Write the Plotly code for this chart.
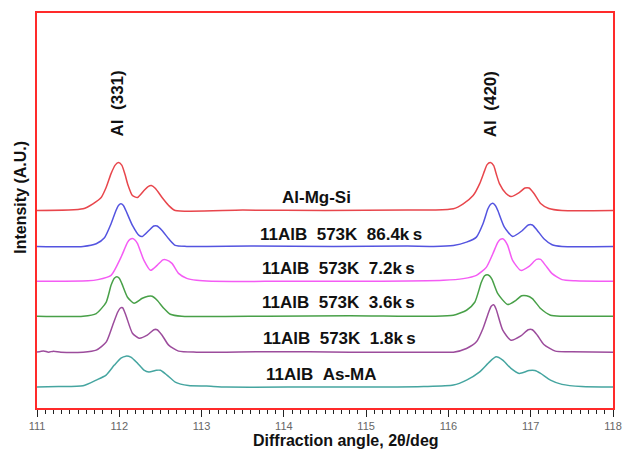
import plotly.graph_objects as go

# ---- data ----
red_x = [111.0, 111.56, 111.68, 111.78, 111.84, 111.90, 111.95, 111.99, 112.03, 112.07, 112.10, 112.16, 112.22, 112.30, 112.35, 112.39, 112.44, 112.52, 112.60, 112.68,
         113.5, 114.5, 115.5, 115.82, 116.06, 116.18, 116.30, 116.38, 116.44, 116.47, 116.51, 116.55, 116.58, 116.62, 116.70, 116.76, 116.86, 116.93, 116.98, 117.04, 117.12, 117.22, 117.38, 118.0]
red_y = [0, 1.7, 6.7, 13, 23, 37, 45.5, 48, 45.5, 36, 27, 15, 13, 20, 24, 25, 22, 13, 5, 0,
         0.4, 0, 0.5, 0.5, 1.7, 6.7, 15, 27, 40, 46, 48, 45, 37, 27, 17, 14, 18, 22.5, 22.5, 17, 7, 2, 0, 0]

blue_x = [111.0, 111.56, 111.72, 111.82, 111.90, 111.96, 111.99, 112.02, 112.05, 112.08, 112.16, 112.24, 112.28, 112.36, 112.42, 112.46, 112.52, 112.60, 112.68, 112.82,
          113.6, 114.6, 115.5, 115.82, 116.06, 116.22, 116.34, 116.42, 116.48, 116.51, 116.54, 116.57, 116.60, 116.68, 116.78, 116.90, 116.97, 117.02, 117.08, 117.16, 117.26, 117.38, 118.0]
blue_y = [0, 0, 2.7, 8.7, 22.7, 36, 41, 42.7, 41, 36, 21, 11, 10, 16, 20.5, 20.5, 16, 7.7, 1, 0,
          0.4, 0, 0.3, 0, 1, 4.3, 9.3, 22.7, 37.7, 42, 43.3, 41, 36, 19.3, 10, 16, 21.5, 21.5, 16, 7.7, 1.7, 0, 0]

magenta_x = [111.0, 111.62, 111.74, 111.90, 112.02, 112.10, 112.13, 112.16, 112.19, 112.22, 112.30, 112.38, 112.46, 112.53, 112.57, 112.64, 112.72, 112.82, 112.94, 113.12,
             114.0, 115.0, 115.94, 116.18, 116.34, 116.46, 116.54, 116.60, 116.63, 116.66, 116.69, 116.72, 116.78, 116.88, 116.98, 117.07, 117.12, 117.18, 117.26, 117.38, 117.54, 118.0]
magenta_y = [0, 0.5, 1.7, 6, 24, 39, 42, 43, 41.5, 38, 21, 11, 16, 21.5, 21.5, 18, 8, 3, 1, 0,
             0, 0, 1, 2.7, 6, 14, 27.7, 39, 42, 42.7, 40.5, 36, 21, 11, 15, 22, 22, 16, 7.7, 1.7, 0.5, 0]

green_x = [111.0, 111.56, 111.72, 111.84, 111.90, 111.94, 111.97, 112.00, 112.03, 112.10, 112.18, 112.28, 112.35, 112.40, 112.46, 112.54, 112.62, 112.76,
           113.8, 114.8, 115.82, 116.06, 116.22, 116.32, 116.40, 116.44, 116.47, 116.50, 116.53, 116.60, 116.72, 116.82, 116.89, 116.95, 117.02, 117.12, 117.24, 117.38, 118.0]
green_y = [0, 0, 2.7, 14, 31, 38, 39.5, 38, 33, 19, 13, 18, 20, 20, 16, 8, 2, 0,
           0, 0.5, 0, 1, 6, 14, 34, 40.5, 41.7, 40.5, 37, 22.7, 11.7, 16, 20.5, 20.5, 17.7, 7.7, 1, 0, 0]

purple_x = [111.0, 111.08, 111.14, 111.20, 111.29, 111.56, 111.72, 111.84, 111.92, 111.98, 112.01, 112.04, 112.08, 112.16, 112.24, 112.34, 112.42, 112.46, 112.52, 112.60, 112.72, 112.94,
            113.8, 114.8, 115.82, 116.06, 116.22, 116.34, 116.42, 116.49, 116.52, 116.55, 116.58, 116.66, 116.76, 116.88, 116.97, 117.02, 117.08, 117.16, 117.30, 117.50, 118.0]
purple_y = [0, 1.2, 0, 1, 0, 0, 2, 10, 27, 40, 44, 44.5, 37, 19, 14, 17, 22.5, 22.5, 17, 7, 1, 0,
            0.5, 0, 0, 0, 3.7, 10.3, 23.7, 40.3, 46, 47.5, 43, 22, 12, 16.3, 22.5, 22.5, 17, 7.7, 1, 0.5, 0]

teal_x = [111.0, 111.26, 111.56, 111.72, 111.84, 111.94, 112.02, 112.08, 112.14, 112.22, 112.30, 112.36, 112.45, 112.50, 112.58, 112.68, 112.84, 113.06, 113.30,
          114.3, 115.2, 115.70, 116.06, 116.22, 116.38, 116.50, 116.58, 116.66, 116.76, 116.86, 116.98, 117.05, 117.12, 117.24, 117.38, 117.62, 118.0]
teal_y = [0, 0.5, 1.3, 7, 12, 22, 29, 31, 30, 24, 17, 15, 16.8, 16.8, 12, 5, 1.5, 1, 0,
          0, 0, 0.5, 2, 7, 15.3, 25.3, 30.3, 27, 18.7, 13.7, 16.5, 16.5, 13.7, 7, 2.7, 0.5, 0]

series_names = ["Al-Mg-Si", "11AlB 573K 86.4ks", "11AlB 573K 7.2ks",
                "11AlB 573K 3.6ks", "11AlB 573K 1.8ks", "11AlB As-MA"]
series_x = [red_x, blue_x, magenta_x, green_x, purple_x, teal_x]
series_y = [red_y, blue_y, magenta_y, green_y, purple_y, teal_y]
offsets = [198, 162, 127, 92, 56, 21]

label_texts = ["Al-Mg-Si",
               "11AlB\u00a0\u00a0573K\u00a0\u00a086.4k\u2009s",
               "11AlB\u00a0\u00a0573K\u00a0\u00a07.2k\u2009s",
               "11AlB\u00a0\u00a0573K\u00a0\u00a03.6k\u2009s",
               "11AlB\u00a0\u00a0573K\u00a0\u00a01.8k\u2009s",
               "11AlB\u00a0\u00a0As-MA"]
label_x = [114.40, 114.70, 114.66, 114.66, 114.68, 114.46]
label_y = [211, 174, 140, 106, 70, 34]

peak_labels = ["Al\u00a0\u00a0(331)", "Al\u00a0\u00a0(420)"]
peak_label_x = [111.98, 116.51]

colors = ["#e8464c", "#5454e0", "#f45cf4", "#48a048", "#9c4c9c", "#45a5a0"]

fig = go.Figure()
for xs, ys, off, c, nm in zip(series_x, series_y, offsets, colors, series_names):
    fig.add_trace(go.Scatter(x=xs, y=[v + off for v in ys], mode="lines", name=nm,
                             line=dict(color=c, width=1.5, shape="spline", smoothing=0.6),
                             showlegend=False, hoverinfo="skip"))

font_b = "Liberation Sans, Arial, sans-serif"
for t, x, y in zip(label_texts, label_x, label_y):
    fig.add_annotation(x=x, y=y, text="<b>" + t + "</b>", showarrow=False,
                       font=dict(family=font_b, size=17, color="#111"))
for t, x in zip(peak_labels, peak_label_x):
    fig.add_annotation(x=x, y=305, text="<b>" + t + "</b>", showarrow=False, textangle=-90,
                       font=dict(family=font_b, size=17, color="#111"))

fig.add_annotation(xref="paper", yref="paper", x=0.537, y=-0.082, xanchor="center", yanchor="middle",
                   text="<b>Diffraction angle, 2θ/deg</b>",
                   showarrow=False, font=dict(family=font_b, size=16, color="#111"))
fig.add_annotation(xref="paper", yref="paper", x=-0.029, y=0.533, xanchor="center", yanchor="middle",
                   text="<b>Intensity (A.U.)</b>",
                   showarrow=False, textangle=-90, font=dict(family=font_b, size=16, color="#111"))

fig.update_xaxes(range=[111, 118], dtick=1, tick0=111, ticks="outside", ticklen=7, tickwidth=1,
                 tickcolor="#222", showgrid=False, zeroline=False,
                 showline=True, linecolor="#ff2a2a", linewidth=2, mirror=True,
                 tickfont=dict(family="Liberation Sans Narrow, Liberation Sans, Arial", size=11, color="#666666"),
                 minor=dict(tick0=111, dtick=0.1, ticks="outside", ticklen=4, tickwidth=1,
                            tickcolor="#222", showgrid=False))
fig.update_yaxes(range=[0, 396], showticklabels=False, ticks="", showgrid=False, zeroline=False,
                 showline=True, linecolor="#ff2a2a", linewidth=2, mirror=True)

fig.update_layout(width=633, height=453, margin=dict(l=37, r=11, t=12, b=45),
                  plot_bgcolor="white", paper_bgcolor="white")

fig.write_html("out.html")
